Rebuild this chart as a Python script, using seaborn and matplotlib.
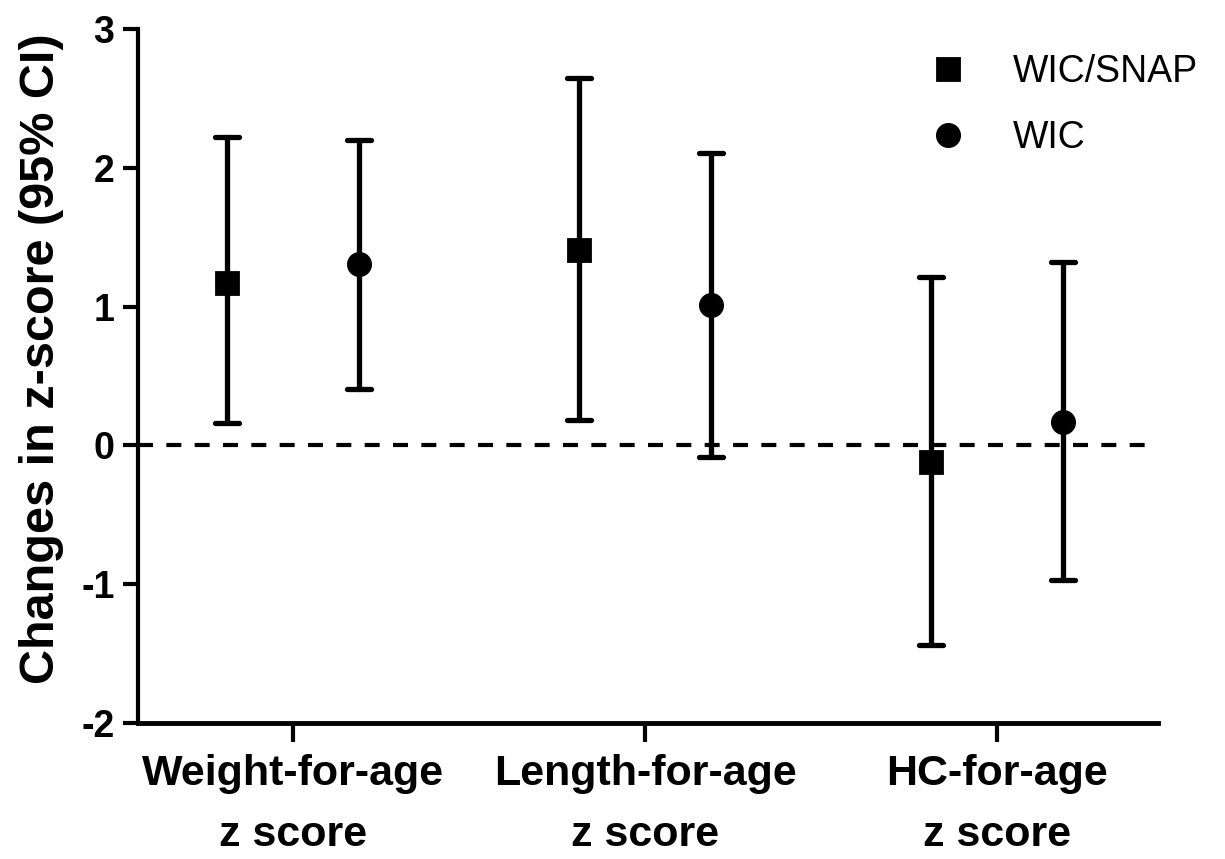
import numpy as np
import pandas as pd
import seaborn as sns
import matplotlib
matplotlib.use("Agg")
import matplotlib.pyplot as plt

# values
MEASURES = ["Weight-for-age\nz score", "Length-for-age\nz score", "HC-for-age\nz score"]
GROUPS = ["WIC/SNAP", "WIC"]
SNAP_EST = [1.17, 1.41, -0.12]
SNAP_LO = [0.16, 0.18, -1.44]
SNAP_HI = [2.22, 2.65, 1.21]
WIC_EST = [1.31, 1.01, 0.17]
WIC_LO = [0.41, -0.08, -0.97]
WIC_HI = [2.20, 2.11, 1.32]

# long table: lo / estimate / hi per point, median picks the estimate,
# the 100% percentile interval gives back lo..hi
rows = []
for grp, est, lo, hi in [("WIC/SNAP", SNAP_EST, SNAP_LO, SNAP_HI),
                         ("WIC", WIC_EST, WIC_LO, WIC_HI)]:
    for m, e, l, h in zip(MEASURES, est, lo, hi):
        for v in (l, e, h):
            rows.append({"measure": m, "group": grp, "z": v})
df = pd.DataFrame(rows)

sns.set_style("ticks")
plt.rcParams["font.family"] = ["Liberation Sans", "DejaVu Sans"]
plt.rcParams["axes.unicode_minus"] = False
for key in ["text.color", "axes.labelcolor", "xtick.color", "ytick.color", "axes.edgecolor"]:
    plt.rcParams[key] = "black"

fig = plt.figure(figsize=(12.25, 8.59), dpi=100)
ax = fig.add_axes([0.1127, 0.1583, 0.8326, 0.8079])

ax.axhline(0, color="black", linewidth=3, linestyle=(0, (3.6, 3.2)), zorder=0)

sns.pointplot(
    data=df, x="measure", y="z", hue="group",
    order=MEASURES, hue_order=GROUPS,
    estimator="median", errorbar=("pi", 100),
    palette=["black", "black"],
    markers=["s", "o"], linestyles=["none", "none"],
    dodge=0.375, capsize=0.066,
    err_kws={"linewidth": 3.8},
    markersize=16,
    ax=ax,
)

ax.set_ylim(-2, 3)
ax.set_xlim(-0.44, 2.457)
ax.set_yticks([-2, -1, 0, 1, 2, 3])
ax.set_xlabel("")
ax.set_ylabel("Changes in z-score (95% CI)", fontsize=35, fontweight="bold", labelpad=12)
ax.yaxis.label.set_y(0.525)
ax.tick_params(axis="y", labelsize=27, width=3, length=11, pad=6)
ax.tick_params(axis="x", labelsize=31, width=3, length=14, pad=8)
for lab in ax.get_xticklabels() + ax.get_yticklabels():
    lab.set_fontweight("bold")
for lab in ax.get_xticklabels():
    lab.set_linespacing(1.7)

sns.despine(ax=ax)
ax.spines["left"].set_linewidth(3)
ax.spines["bottom"].set_linewidth(3.5)

sns.move_legend(
    ax, "upper left", bbox_to_anchor=(910 / 1225, 1 - 54 / 859),
    bbox_transform=fig.transFigure, frameon=False, title=None,
    fontsize=27, borderpad=0, borderaxespad=0, labelspacing=0.8,
    handletextpad=0.75,
)

fig.savefig("out.png", dpi=100)
